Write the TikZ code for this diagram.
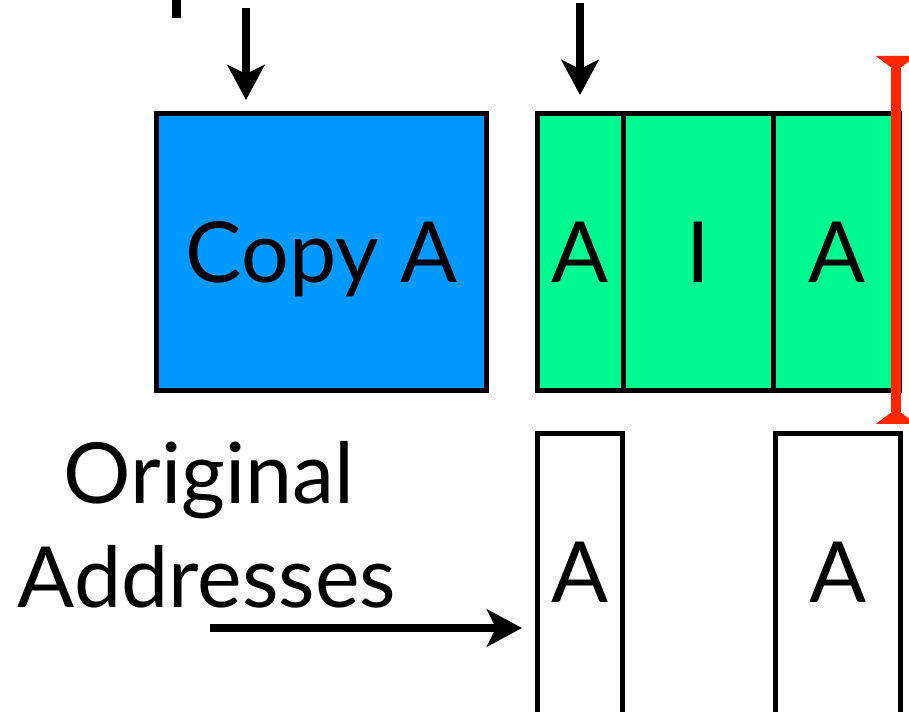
\documentclass[tikz,border=0pt]{standalone}
\usepackage{fontspec}
\setmainfont{Lato}
\usetikzlibrary{arrows.meta,positioning}
\definecolor{copyblue}{RGB}{0,153,255}
\definecolor{tospace}{RGB}{0,250,146}
\definecolor{limitred}{RGB}{255,38,0}
\tikzset{
	box/.style ={draw, line width=0.1cm, outer sep=0pt, inner sep=0pt, text depth=0pt}, % outer sep 0 so neighbouring cells share one border
	bigtext/.style = {font=\fontsize{48}{59}\selectfont, text depth=0pt}
}

\begin{document}
\begin{tikzpicture}[x=0.02cm, y=-0.02cm,
            every node/.style={bigtext},
            ptrarrow/.style={line width=0.15cm, -{Stealth[length=0.7cm,width=0.74cm,inset=0.18cm]}},
            limitline/.style={limitred, line width=0.19cm,
                {Triangle[reversed,length=0.3cm,width=0.8cm]}-{Triangle[reversed,length=0.3cm,width=0.8cm]}},
            cell/.style={box, fill=tospace, minimum height=5.54cm}
        ]
            \clip (0,0) rectangle (909,712);
            % copied object in the blue area
            \node[box, fill=copyblue, minimum width=6.6cm, minimum height=5.54cm] (copy) at (321.5,252) {Copy A};
            % to-space cells
            \node[cell, minimum width=1.71cm] (cellA) at (580.25,252) {A};
            \node[cell, minimum width=3.02cm, right=0pt of cellA] (cellI) {I};
            \node[cell, minimum width=2.51cm, right=0pt of cellI] (cellB) {A};
            % original objects below
            \node[box, minimum width=1.7cm, minimum height=6.54cm] (origA) at (580,596.5) {};
            \node[box, minimum width=2.5cm, minimum height=6.54cm] (origB) at (838,596.5) {};
            \node (origAtext) at (580,572) {A};
            \node (origBtext) at (838,572) {A};
            \node[anchor=base] (orig1) at (209,503) {Original};
            \node[anchor=base] (orig2) at (207,607) {Addresses};
            % pointers
            \coordinate (scan) at (246,8);
            \coordinate (free) at (580,3);
            \coordinate (origptr) at (210,628);
            \draw[ptrarrow, shorten >=0.27cm] (scan) -- (scan |- copy.north);
            \draw[ptrarrow, shorten >=0.37cm] (free) -- (free |- cellA.north);
            \draw[ptrarrow, shorten >=0.31cm] (origptr) -- (origptr -| origA.west);
            % limit of the to-space
            \coordinate (limtop) at (896,56);
            \coordinate (limbot) at (896,424);
            \draw[limitline] (limtop) -- (limbot);
            % cut-off letter at the top
            \fill (172,0) rectangle (181,18);
        \end{tikzpicture}
\end{document}
